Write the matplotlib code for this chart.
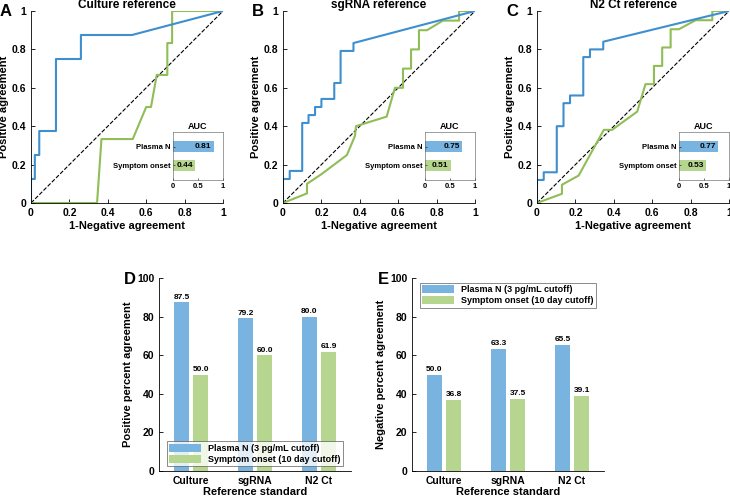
import numpy as np
import matplotlib
matplotlib.use("Agg")
import matplotlib.pyplot as plt

plt.rcParams["font.family"] = ["Liberation Sans", "DejaVu Sans"]
plt.rcParams["font.weight"] = "bold"
plt.rcParams["axes.labelweight"] = "bold"
plt.rcParams["axes.titleweight"] = "bold"

# ROC curves (x = 1-negative agreement, y = positive agreement)
culture_plasma_x = [0, 0, 0.02, 0.02, 0.043, 0.043, 0.13, 0.13, 0.26, 0.26, 0.526, 1]
culture_plasma_y = [0, 0.125, 0.125, 0.25, 0.25, 0.375, 0.375, 0.75, 0.75, 0.875, 0.875, 1]
culture_onset_x = [0, 0.344, 0.367, 0.53, 0.6, 0.625, 0.655, 0.71, 0.71, 0.735, 0.735, 1]
culture_onset_y = [0, 0, 0.333, 0.333, 0.5, 0.5, 0.667, 0.667, 0.833, 0.833, 1, 1]

sgrna_plasma_x = [0, 0, 0.035, 0.035, 0.1, 0.1, 0.133, 0.133, 0.167, 0.167, 0.2, 0.2,
                  0.267, 0.267, 0.3, 0.3, 0.367, 0.367, 1]
sgrna_plasma_y = [0, 0.125, 0.125, 0.167, 0.167, 0.417, 0.417, 0.458, 0.458, 0.5, 0.5, 0.542,
                  0.542, 0.625, 0.625, 0.792, 0.792, 0.833, 1]
sgrna_onset_x = [0, 0.125, 0.125, 0.2, 0.333, 0.375, 0.38, 0.54, 0.583, 0.625, 0.625, 0.667,
                 0.667, 0.708, 0.708, 0.75, 0.833, 0.917, 0.917, 1]
sgrna_onset_y = [0, 0.05, 0.1, 0.15, 0.25, 0.35, 0.4, 0.45, 0.6, 0.6, 0.7, 0.7,
                 0.8, 0.8, 0.9, 0.9, 0.95, 0.95, 1, 1]

n2_plasma_x = [0, 0, 0.035, 0.035, 0.103, 0.103, 0.138, 0.138, 0.172, 0.172, 0.241, 0.241,
               0.276, 0.276, 0.345, 0.345, 1]
n2_plasma_y = [0, 0.12, 0.12, 0.16, 0.16, 0.4, 0.4, 0.52, 0.52, 0.56, 0.56, 0.76,
               0.76, 0.8, 0.8, 0.84, 1]
n2_onset_x = [0, 0.13, 0.13, 0.217, 0.348, 0.391, 0.522, 0.565, 0.609, 0.609, 0.652, 0.652,
              0.696, 0.696, 0.739, 0.826, 0.913, 0.913, 1]
n2_onset_y = [0, 0.048, 0.095, 0.143, 0.381, 0.381, 0.476, 0.619, 0.619, 0.714, 0.714, 0.81,
              0.81, 0.905, 0.905, 0.952, 0.952, 1, 1]

roc_titles = ["Culture reference", "sgRNA reference", "N2 Ct reference"]
auc_labels = ["Plasma N", "Symptom onset"]
auc_plasma = [0.81, 0.75, 0.77]
auc_onset = [0.44, 0.51, 0.53]

references = ["Culture", "sgRNA", "N2 Ct"]
ppa_plasma = [87.5, 79.2, 80.0]
ppa_onset = [50.0, 60.0, 61.9]
npa_plasma = [50.0, 63.3, 65.5]
npa_onset = [36.8, 37.5, 39.1]
legend_labels = ["Plasma N (3 pg/mL cutoff)", "Symptom onset (10 day cutoff)"]

line_blue = "#3f8fcf"
line_green = "#8fbd56"
bar_blue = "#79b4e0"
bar_green = "#b6d58f"

W, H = 730, 497
fig = plt.figure(figsize=(W / 100, H / 100), dpi=100)


def px_axes(left, right, top, bottom):
    return fig.add_axes([left / W, 1 - bottom / H, (right - left) / W, (bottom - top) / H])


def style_open(ax):
    ax.spines["top"].set_visible(False)
    ax.spines["right"].set_visible(False)
    ax.tick_params(direction="in", labelsize=7.5, length=3, width=0.6)
    for s in ax.spines.values():
        s.set_linewidth(0.6)


roc_data = [
    (culture_plasma_x, culture_plasma_y, culture_onset_x, culture_onset_y),
    (sgrna_plasma_x, sgrna_plasma_y, sgrna_onset_x, sgrna_onset_y),
    (n2_plasma_x, n2_plasma_y, n2_onset_x, n2_onset_y),
]
roc_left = [31, 283, 537]
letters = ["A", "B", "C"]

for i in range(3):
    left = roc_left[i]
    ax = px_axes(left, left + 192, 11, 203)
    px, py, ox, oy = roc_data[i]
    ax.plot([0, 1], [0, 1], "k--", linewidth=0.8)
    ax.plot(ox, oy, color=line_green, linewidth=1.5)
    ax.plot(px, py, color=line_blue, linewidth=1.5)
    ax.set_xlim(0, 1)
    ax.set_ylim(0, 1)
    ax.set_xticks(np.arange(0, 1.01, 0.2))
    ax.set_yticks(np.arange(0, 1.01, 0.2))
    ax.set_xticklabels(["0", "0.2", "0.4", "0.6", "0.8", "1"])
    ax.set_yticklabels(["0", "0.2", "0.4", "0.6", "0.8", "1"])
    style_open(ax)
    ax.set_xlabel("1-Negative agreement", fontsize=8, labelpad=2)
    ax.set_ylabel("Positive agreement", fontsize=8, labelpad=2)
    ax.set_title(roc_titles[i], fontsize=8.5, pad=1)
    fig.text((left - 25) / W, 1 - 12 / H, letters[i], fontsize=12, fontweight="bold",
             va="center", ha="center")

    # AUC inset
    ins = px_axes(left + 142, left + 192, 132, 180)
    vals = [auc_plasma[i], auc_onset[i]]
    ins.barh([1, 2], vals, height=0.6, color=[bar_blue, bar_green])
    for yy, v in zip([1, 2], vals):
        ins.text(v - 0.04, yy, f"{v:.2f}", ha="right", va="center", fontsize=6,
                 fontweight="bold")
    ins.set_ylim(2.8, 0.2)
    ins.set_xlim(0, 1)
    ins.set_yticks([1, 2])
    ins.set_yticklabels(auc_labels)
    ins.set_xticks([0, 0.5, 1])
    ins.set_xticklabels(["0", "0.5", "1"])
    ins.tick_params(direction="in", labelsize=5.5, length=1.5, width=0.4, pad=2)
    for s in ins.spines.values():
        s.set_linewidth(0.4)
        s.set_color("#555555")
    ins.set_title("AUC", fontsize=6.5, pad=2)

# Bar charts
x = np.arange(1, 4)
bw = 0.23
bar_specs = [
    (159, 351, ppa_plasma, ppa_onset, "Positive percent agreement", "D", "lower center",
     (0.5, 0.0)),
    (412, 604, npa_plasma, npa_onset, "Negative percent agreement", "E", "upper center",
     (0.5, 1.0)),
]
for left, right, vp, vo, ylab, letter, loc, anchor in bar_specs:
    ax = px_axes(left, right, 278, 471)
    ax.bar(x - 0.15, vp, width=bw, color=bar_blue, label=legend_labels[0])
    ax.bar(x + 0.15, vo, width=bw, color=bar_green, label=legend_labels[1])
    for xx, v in zip(x - 0.15, vp):
        ax.text(xx, v + 0.8, f"{v:.1f}", ha="center", va="bottom", fontsize=6,
                fontweight="bold")
    for xx, v in zip(x + 0.15, vo):
        ax.text(xx, v + 0.8, f"{v:.1f}", ha="center", va="bottom", fontsize=6,
                fontweight="bold")
    ax.set_xlim(0.5, 3.5)
    ax.set_ylim(0, 100)
    ax.set_xticks(x)
    ax.set_xticklabels(references)
    ax.set_yticks(np.arange(0, 101, 20))
    style_open(ax)
    ax.tick_params(axis="x", length=0)
    ax.set_xlabel("Reference standard", fontsize=8, labelpad=1)
    ax.set_ylabel(ylab, fontsize=8, labelpad=3)
    leg = ax.legend(loc=loc, bbox_to_anchor=anchor, fontsize=6.5, frameon=True,
                    fancybox=False, edgecolor="#555555", handlelength=3.5,
                    handleheight=1.0, borderpad=0.3, labelspacing=0.2,
                    borderaxespad=0.5)
    leg.get_frame().set_linewidth(0.6)
    fig.text((left - 29) / W, 1 - 279 / H, letter,
             fontsize=12, fontweight="bold", va="center", ha="center")

fig.savefig("out.png", dpi=100)
